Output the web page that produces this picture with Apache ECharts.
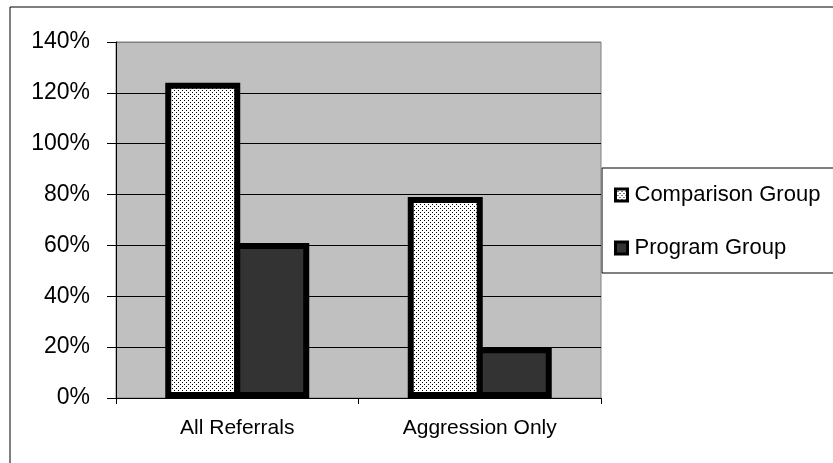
<!DOCTYPE html>
<html>
<head>
<meta charset="utf-8">
<script src="https://cdn.jsdelivr.net/npm/echarts@6/dist/echarts.min.js"></script>
<style>
  html, body { margin: 0; padding: 0; background: #fff; }
  #chart { width: 833px; height: 463px; }
</style>
</head>
<body>
<div id="chart"></div>
<script>
// data
const categories = ['All Referrals', 'Aggression Only']
const comparison = [124, 79]
const program = [61, 20]
const yTicks = [0, 20, 40, 60, 80, 100, 120, 140]

// dotted fill like the old excel pattern
function dotPattern() {
  const c = document.createElement('canvas')
  c.width = 4
  c.height = 4
  const ctx = c.getContext('2d')
  ctx.fillStyle = '#fff'
  ctx.fillRect(0, 0, 4, 4)
  ctx.fillStyle = '#000'
  ctx.fillRect(0, 0, 1, 1)
  ctx.fillRect(2, 2, 1, 1)
  return c
}

const font = '"Liberation Sans", Arial, sans-serif'
const myChart = echarts.init(document.getElementById('chart'), null, { renderer: 'canvas' })

const option = {
  animation: false,
  backgroundColor: '#fff',
  grid: {
    left: 116,
    right: 232,
    top: 42,
    bottom: 65,
    show: true,
    backgroundColor: '#c0c0c0',
    borderColor: '#808080',
    borderWidth: 1
  },
  graphic: [
    // outer chart frame
    { type: 'rect', shape: { x: 10, y: 7, width: 840, height: 470 }, style: { fill: 'none', stroke: '#000', lineWidth: 1 }, silent: true },
    // legend frame
    { type: 'rect', shape: { x: 602, y: 168, width: 250, height: 105 }, style: { fill: '#fff', stroke: '#000', lineWidth: 1 }, silent: true, z: -1 }
  ],
  legend: {
    orient: 'vertical',
    left: 614,
    top: 184,
    padding: 0,
    itemWidth: 12,
    itemHeight: 12,
    itemGap: 31,
    icon: 'rect',
    itemStyle: { borderWidth: 3, borderColor: '#000' },
    textStyle: { fontFamily: font, fontSize: 22, color: '#000', padding: [0, 0, 0, 2] },
    data: ['Comparison Group', 'Program Group']
  },
  xAxis: {
    type: 'category',
    data: categories,
    axisLine: { lineStyle: { color: '#000', width: 1 } },
    axisTick: { show: true, length: 6, lineStyle: { color: '#000' } },
    axisLabel: { fontFamily: font, fontSize: 21, color: '#000', margin: 20 }
  },
  yAxis: {
    type: 'value',
    min: 0,
    max: 140,
    interval: 20,
    axisLine: { show: true, lineStyle: { color: '#000', width: 1 } },
    axisTick: { show: true, length: 9, lineStyle: { color: '#000' } },
    axisLabel: {
      fontFamily: font,
      fontSize: 23,
      color: '#000',
      margin: 26,
      formatter: (v) => (yTicks.includes(v) ? v + '%' : '')
    },
    splitLine: {
      lineStyle: {
        color: ['#000', '#000', '#000', '#000', '#000', '#000', '#000', '#808080'],
        width: 1
      }
    }
  },
  series: [
    {
      name: 'Comparison Group',
      type: 'bar',
      data: comparison,
      barWidth: 75,
      barGap: '-8%',
      itemStyle: {
        color: { image: dotPattern(), repeat: 'repeat' },
        borderColor: '#000',
        borderWidth: 6
      }
    },
    {
      name: 'Program Group',
      type: 'bar',
      data: program,
      barWidth: 75,
      itemStyle: {
        color: '#333333',
        borderColor: '#000',
        borderWidth: 6
      }
    }
  ]
}

myChart.setOption(option)
</script>
</body>
</html>
